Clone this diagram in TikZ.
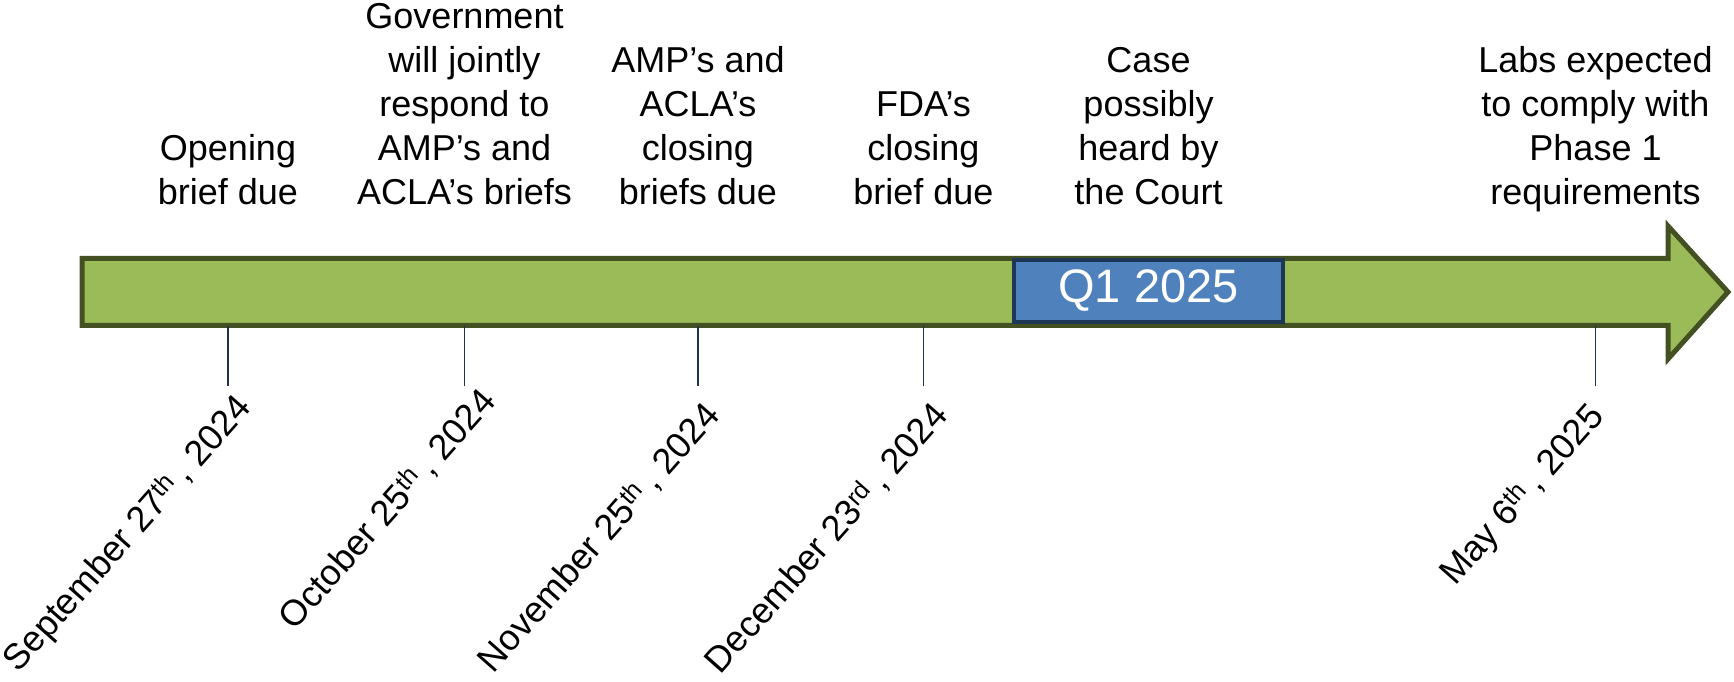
\documentclass[tikz,border=0pt]{standalone}
\usepackage{fontspec}
\setmainfont{Liberation Sans}
\definecolor{arrowfill}{HTML}{9BBB59}
\definecolor{arrowline}{RGB}{67,80,34}
\definecolor{qfill}{HTML}{4F81BD}
\definecolor{qline}{RGB}{31,55,87}
\definecolor{tickcol}{RGB}{31,50,80}
\begin{document}
\begin{tikzpicture}[x=1pt,y=1pt]
\useasboundingbox (0,0) rectangle (1734,682);
\tikzset{
  lbl/.style={font=\fontsize{36}{44}\selectfont, align=center, anchor=south, inner sep=0pt},
  datelbl/.style={font=\fontsize{36}{44}\selectfont, rotate=48.5, anchor=east, inner sep=0pt},
  tickline/.style={draw=tickcol, line width=1.5pt},
  qbox/.style={draw=qline, fill=qfill, line width=4pt, minimum width=269pt, minimum height=62pt, inner sep=0pt,
    text=white, font=\fontsize{47}{56}\selectfont}
}
% main arrow
\draw[fill=arrowfill, draw=arrowline, line width=5pt, line join=miter]
  (82,423.5) -- (1668,423.5) -- (1668,456) -- (1728,390) -- (1668,323) -- (1668,356.5) -- (82,356.5) -- cycle;
% Q1 box
\node[qbox] (q1) at (1148.5,391) {Q1 2025};
% ticks
\foreach \n/\x in {1/228,2/464.5,3/698,4/923.5,6/1595.5}{
  \coordinate (ta\n) at (\x,356);
  \coordinate (tb\n) at (\x,296);
  \draw[tickline] (ta\n) -- (tb\n);
}
% top labels
\node[lbl] (L1) at (228,463.8) {Opening\\brief due\strut};
\node[lbl] (L2) at (464.5,463.8) {Government\\will jointly\\respond to\\AMP’s and\\ACLA’s briefs\strut};
\node[lbl] (L3) at (698,463.8) {AMP’s and\\ACLA’s\\closing\\briefs due\strut};
\node[lbl] (L4) at (923.5,463.8) {FDA’s\\closing\\brief due\strut};
\node[lbl] (L5) at (1148.5,463.8) {Case\\possibly\\heard by\\the Court\strut};
\node[lbl] (L6) at (1595.5,463.8) {Labs expected\\to comply with\\Phase 1\\requirements\strut};
% dates
\node[datelbl] (D1) at (246,280) {September 27\textsuperscript{th}\,, 2024};
\node[datelbl] (D2) at (489,287) {October 25\textsuperscript{th}\,, 2024};
\node[datelbl] (D3) at (713,273) {November 25\textsuperscript{th}\,, 2024};
\node[datelbl] (D4) at (941,273) {December 23\textsuperscript{rd}\,, 2024};
\node[datelbl] (D6) at (1598,271) {May 6\textsuperscript{th}\,, 2025};
\end{tikzpicture}
\end{document}
